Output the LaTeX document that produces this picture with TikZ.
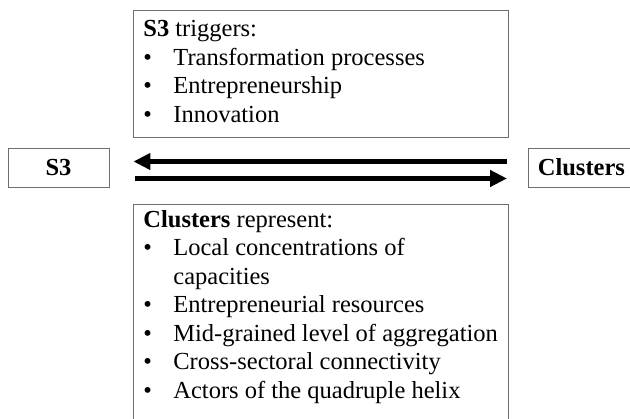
\documentclass[tikz,border=0pt]{standalone}
\usepackage{fontspec}
\setmainfont{Liberation Serif}
\usetikzlibrary{positioning,arrows.meta}
\definecolor{boxgray}{RGB}{110,110,110}
\newcommand{\bitem}{\makebox[30pt][l]{\textbullet}}

\begin{document}
\begin{tikzpicture}[
    x=1pt, y=-1pt,
    font=\fontsize{24.5}{28.5}\selectfont,
    labelbox/.style={
      draw=boxgray, line width=0.8pt,
      minimum height=39pt, inner sep=0pt,
      font=\fontsize{24.5}{28.5}\selectfont\bfseries
    },
    infobox/.style={
      draw=boxgray, line width=0.8pt,
      anchor=north west, inner xsep=10pt, inner ysep=0pt
    },
    bigarrow/.style={
      line width=4.5pt, black,
      -{Triangle[length=17pt,width=16pt]}
    },
  ]
    \useasboundingbox (0,0) rectangle (630,419);

    %── the two actors ──────────────────────────────────────────────────
    \node[labelbox, minimum width=101pt] (s3) at (58.5,167.5) {S3};
    \node[labelbox, anchor=west, minimum width=106pt] (clu) at (528,167.5) {Clusters};

    %── what S3 triggers ────────────────────────────────────────────────
    \node[infobox] (trig) at (133,10) {%
      \begin{minipage}[c][127pt][t]{355pt}
        \rule{0pt}{26.5pt}\textbf{S3} triggers:\\
        \bitem Transformation processes\\
        \bitem Entrepreneurship\\
        \bitem Innovation
      \end{minipage}};

    %── what clusters represent ─────────────────────────────────────────
    \node[infobox] (repr) at (133,204) {%
      \begin{minipage}[c][225pt][t]{355pt}
        \rule{0pt}{23pt}\textbf{Clusters} represent:\\
        \bitem Local concentrations of\\
        \hspace*{30pt}capacities\\
        \bitem Entrepreneurial resources\\
        \bitem Mid-grained level of aggregation\\
        \bitem Cross-sectoral connectivity\\
        \bitem Actors of the quadruple helix
      \end{minipage}};

    %── arrows both ways ────────────────────────────────────────────────
    \draw[bigarrow] ([xshift=-21pt,yshift=6pt]clu.west) -- ([xshift=24pt,yshift=6pt]s3.east);
    \draw[bigarrow] ([xshift=26pt,yshift=-11pt]s3.east) -- ([xshift=-21pt,yshift=-11pt]clu.west);

  \end{tikzpicture}
\end{document}
